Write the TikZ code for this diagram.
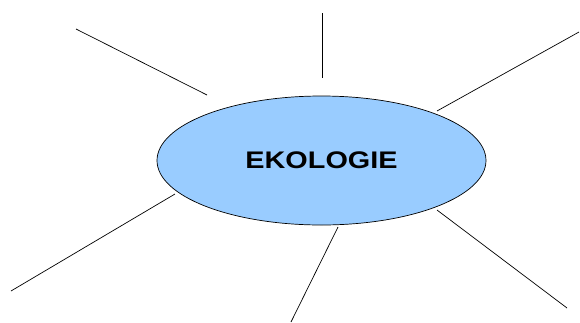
\documentclass[tikz,border=0pt]{standalone}
\usepackage{fontspec}
\setmainfont{Liberation Sans}
\usetikzlibrary{shapes.geometric}
\definecolor{ekoblue}{HTML}{99CCFF}

\begin{document}
\begin{tikzpicture}[x=1pt, y=-1pt, spoke/.style={line width=0.7pt}]
    \useasboundingbox (0,0) rectangle (580,322);

    % Central ellipse
    \node[ellipse, draw, line width=0.7pt, fill=ekoblue, minimum width=329pt,
          minimum height=129pt, inner sep=0pt] (eko) at (321.5,160.5)
          {\fontsize{24}{28}\selectfont\bfseries\scalebox{1.2}[1]{EKOLOGIE}};

    % Spoke ends
    \coordinate (a1) at (76,29);   \coordinate (b1) at (207,95);
    \coordinate (a2) at (322,13);  \coordinate (b2) at (322,78);
    \coordinate (a3) at (579,32);  \coordinate (b3) at (437,111);
    \coordinate (a4) at (11,291);  \coordinate (b4) at (175,194);
    \coordinate (a5) at (291,322); \coordinate (b5) at (338,227);
    \coordinate (a6) at (567,308); \coordinate (b6) at (437,210);

    % Spokes
    \foreach \i in {1,...,6}
        \draw[spoke] (a\i) -- (b\i);
\end{tikzpicture}
\end{document}
